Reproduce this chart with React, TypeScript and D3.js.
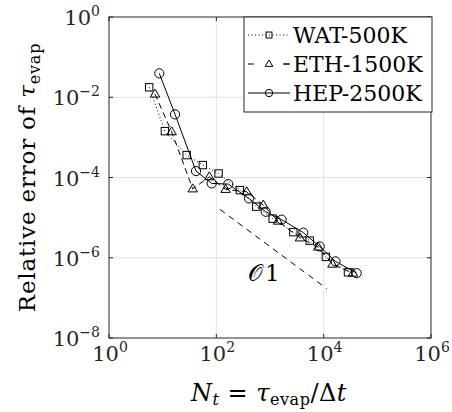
import React from "react";
import * as d3 from "d3";

const watN = [5.6, 11, 28, 56, 110, 275, 555, 1120, 2720, 5500, 11000, 28400];
const watErr = [0.0177, 1.43e-3, 3.62e-4, 2.04e-4, 1.26e-4, 4.85e-5, 1.88e-5, 9.44e-6, 4.35e-6, 2.67e-6, 1.05e-6, 4.33e-7];
const ethN = [7.2, 14.7, 36.3, 74, 149, 368, 750, 1410, 3620, 7940, 14600, 35200];
const ethErr = [0.012, 1.38e-3, 5.2e-5, 1.04e-4, 5.05e-5, 4.4e-5, 2.05e-5, 8.18e-6, 3.12e-6, 1.84e-6, 6.92e-7, 4.13e-7];
const hepN = [8.65, 17, 41.8, 82, 167, 406, 832, 1650, 4170, 8430, 16600, 41200];
const hepErr = [0.0394, 3.75e-3, 1.445e-4, 7.13e-5, 6.84e-5, 3.01e-5, 1.4e-5, 8.91e-6, 4.23e-6, 1.91e-6, 8.13e-7, 4.13e-7];
const refN = [117, 11400];
const refErr = [1.6e-5, 1.7e-7];
const seriesNames = ["WAT-500K", "ETH-1500K", "HEP-2500K"];
const xTickExps = [0, 2, 4, 6];
const yTickExps = [0, -2, -4, -6, -8];

const W = 452, H = 412;
const L = 109, R = 431, T = 17, B = 338;
const FONT = "'DejaVu Serif', serif";
const AX = "#262626";
const GRID = "#e3e3e3";

const x = d3.scaleLog().domain([1, 1e6]).range([L, R]);
const y = d3.scaleLog().domain([1e-8, 1]).range([B, T]);

type Marker = "square" | "triangle" | "circle";

function MarkerShape({ kind, cx, cy, s = 1 }: { kind: Marker; cx: number; cy: number; s?: number }) {
  const common = { fill: "none", stroke: "#000", strokeWidth: 1 };
  if (kind === "square") {
    const h = 3.7 * s;
    return <rect x={cx - h} y={cy - h} width={2 * h} height={2 * h} {...common} />;
  }
  if (kind === "triangle") {
    const r = 5 * s;
    const pts = `${cx},${cy - r} ${cx - r * 0.95},${cy + r * 0.6} ${cx + r * 0.95},${cy + r * 0.6}`;
    return <polygon points={pts} {...common} />;
  }
  return <circle cx={cx} cy={cy} r={4.6 * s} {...common} />;
}

const series = [
  { name: seriesNames[0], n: watN, e: watErr, marker: "square" as Marker, dash: "1,2.5" },
  { name: seriesNames[1], n: ethN, e: ethErr, marker: "triangle" as Marker, dash: "6,4" },
  { name: seriesNames[2], n: hepN, e: hepErr, marker: "circle" as Marker, dash: undefined as string | undefined },
];

export default function App() {
  const line = d3
    .line<[number, number]>()
    .x((d) => x(d[0]))
    .y((d) => y(d[1]));

  const legendRows = [35, 64, 93];

  return (
    <div style={{ position: "absolute", left: 0, top: 0 }}>
      <svg width={W} height={H} style={{ display: "block", background: "#fff" }} fontFamily={FONT}>
        {/* grid */}
        {xTickExps.slice(1, -1).map((e) => (
          <line key={"gx" + e} x1={x(10 ** e)} x2={x(10 ** e)} y1={T} y2={B} stroke={GRID} strokeWidth={1} />
        ))}
        {yTickExps.slice(1, -1).map((e) => (
          <line key={"gy" + e} x1={L} x2={R} y1={y(10 ** e)} y2={y(10 ** e)} stroke={GRID} strokeWidth={1} />
        ))}

        {/* reference O(1) line */}
        <path
          d={line(refN.map((n, i) => [n, refErr[i]]) as [number, number][]) || ""}
          fill="none"
          stroke="#000"
          strokeWidth={1}
          strokeDasharray="6,5"
        />
        <text x={248} y={281} fontSize={23} fill="#000">
          <tspan>𝒪</tspan>
          <tspan dx={3}>1</tspan>
        </text>

        {/* series */}
        {series.map((s) => (
          <g key={s.name}>
            <path
              d={line(s.n.map((n, i) => [n, s.e[i]]) as [number, number][]) || ""}
              fill="none"
              stroke="#000"
              strokeWidth={1}
              strokeDasharray={s.dash}
            />
            {s.n.map((n, i) => (
              <MarkerShape key={i} kind={s.marker} cx={x(n)} cy={y(s.e[i])} />
            ))}
          </g>
        ))}

        {/* axes box */}
        <rect x={L} y={T} width={R - L} height={B - T} fill="none" stroke={AX} strokeWidth={1} />
        {xTickExps.map((e) => (
          <g key={"xt" + e}>
            <line x1={x(10 ** e)} x2={x(10 ** e)} y1={B} y2={B - 4} stroke={AX} />
            <line x1={x(10 ** e)} x2={x(10 ** e)} y1={T} y2={T + 4} stroke={AX} />
            <text x={x(10 ** e) + 1} y={361} fontSize={21} textAnchor="middle" fill={AX}>
              10<tspan fontSize={14} dy={-9}>{e < 0 ? "\u2212" + -e : e}</tspan>
            </text>
          </g>
        ))}
        {yTickExps.map((e) => (
          <g key={"yt" + e}>
            <line x1={L} x2={L + 4} y1={y(10 ** e)} y2={y(10 ** e)} stroke={AX} />
            <line x1={R} x2={R - 4} y1={y(10 ** e)} y2={y(10 ** e)} stroke={AX} />
            <text x={100} y={y(10 ** e) + 8} fontSize={21} textAnchor="end" fill={AX}>
              10<tspan fontSize={14} dy={-9}>{e < 0 ? "\u2212" + -e : e}</tspan>
            </text>
          </g>
        ))}

        {/* axis labels */}
        <text x={269} y={401} fontSize={24} textAnchor="middle" fill="#000" letterSpacing={0.5}>
          <tspan fontStyle="italic">N</tspan>
          <tspan fontStyle="italic" fontSize={16} dy={4}>t</tspan>
          <tspan dy={-4}> = </tspan>
          <tspan fontStyle="italic">τ</tspan>
          <tspan fontSize={16} dy={4}>evap</tspan>
          <tspan dy={-4}>/Δ</tspan>
          <tspan fontStyle="italic">t</tspan>
        </text>
        <text
          transform={`translate(35,${(T + B) / 2}) rotate(-90)`}
          fontSize={23}
          textAnchor="middle"
          fill="#000"
          letterSpacing={0.8}
        >
          Relative error of <tspan fontStyle="italic">τ</tspan>
          <tspan fontSize={16} dy={5}>evap</tspan>
        </text>

        {/* legend */}
        <rect x={244} y={17} width={188} height={95} fill="#fff" stroke={AX} strokeWidth={1} />
        {series.map((s, i) => {
          const cy = legendRows[i];
          return (
            <g key={"lg" + s.name}>
              <line x1={248} x2={290} y1={cy} y2={cy} stroke="#000" strokeWidth={1} strokeDasharray={s.marker === "triangle" ? "6,29" : s.dash} />
              {s.marker === "triangle" && <line x1={284} x2={290} y1={cy} y2={cy} stroke="#000" strokeWidth={1} />}
              <MarkerShape kind={s.marker} cx={269} cy={cy} s={0.8} />
              <text x={293} y={cy + 8} fontSize={22} fill="#000">
                {s.name}
              </text>
            </g>
          );
        })}
      </svg>
    </div>
  );
}
